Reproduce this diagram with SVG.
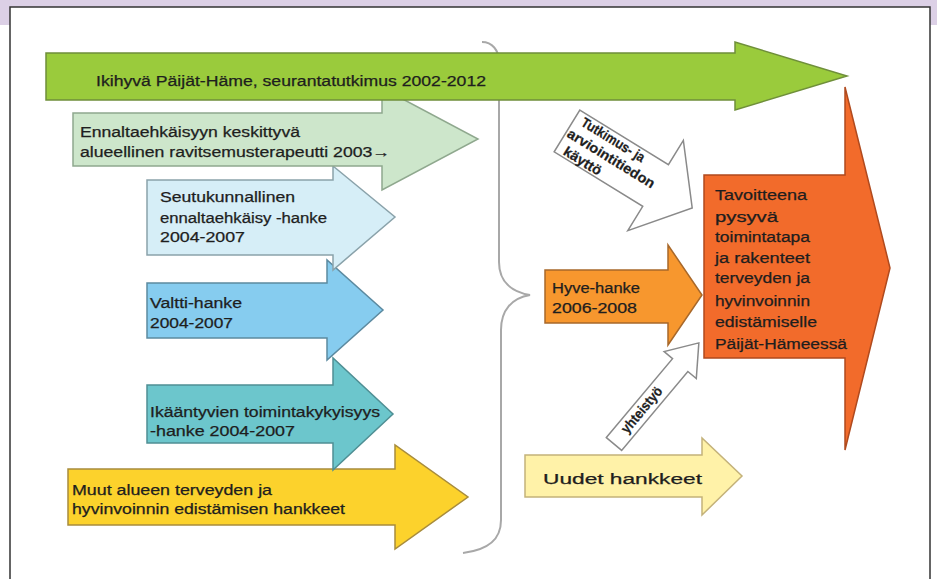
<svg xmlns="http://www.w3.org/2000/svg" width="937" height="579" viewBox="0 0 937 579">
<style>
.t{font-family:"Liberation Sans",Arial,sans-serif;fill:#1e1e1e;font-size:14px;stroke:#1e1e1e;stroke-width:0.25}
.a{stroke-width:1.5;stroke-linejoin:miter}
</style>
<rect x="0" y="0" width="937" height="579" fill="#ffffff"/>
<rect x="0" y="0" width="937" height="25" fill="#dcd0e6"/>
<rect x="10" y="7" width="920" height="580" fill="#ffffff" stroke="#333333" stroke-width="1.5"/>

<g id="connectors">
<path d="M482 42 C492 42 499 50 499 62 L499 262 C499 282 512 292 530 295 C512 298 501 310 501 330 L501 520 C501 540 488 550 463 553" fill="none" stroke="#a8a8a8" stroke-width="2"/>
</g>

<g id="muut">
<polygon class="a" points="68,469 395,469 395,445 468,497 395,549 395,525 68,525" fill="#fcd22c" stroke="#a88c3c"/>
<text class="t" x="72" y="495" textLength="200" lengthAdjust="spacingAndGlyphs">Muut alueen terveyden ja</text>
<text class="t" x="72" y="514" textLength="273" lengthAdjust="spacingAndGlyphs">hyvinvoinnin edistämisen hankkeet</text>
</g>

<g id="ikaantyvien">
<polygon class="a" points="147,385 333,385 333,358 393,414 333,470 333,443 147,443" fill="#6cc6cc" stroke="#4f8f94"/>
<text class="t" x="150" y="417" textLength="230" lengthAdjust="spacingAndGlyphs">Ikääntyvien toimintakykyisyys</text>
<text class="t" x="150" y="436" textLength="145" lengthAdjust="spacingAndGlyphs">-hanke 2004-2007</text>
</g>

<g id="valtti">
<polygon class="a" points="147,283 327,283 327,260 383,310 327,360 327,338 147,338" fill="#86ccef" stroke="#5c8aa0"/>
<text class="t" x="150" y="308" textLength="92" lengthAdjust="spacingAndGlyphs">Valtti-hanke</text>
<text class="t" x="150" y="328" textLength="83" lengthAdjust="spacingAndGlyphs">2004-2007</text>
</g>

<g id="seutukunnallinen">
<polygon class="a" points="147,180 333,180 333,166 395,217 333,270 333,255 147,255" fill="#d6eef7" stroke="#8aa2aa"/>
<text class="t" x="160" y="202" textLength="135" lengthAdjust="spacingAndGlyphs">Seutukunnallinen</text>
<text class="t" x="160" y="223" textLength="167" lengthAdjust="spacingAndGlyphs">ennaltaehkäisy -hanke</text>
<text class="t" x="160" y="242" textLength="85" lengthAdjust="spacingAndGlyphs">2004-2007</text>
</g>

<g id="ennaltaehkaisy">
<polygon class="a" points="73,113 382,113 382,88 478,139 382,190 382,166 73,166" fill="#cde6cb" stroke="#8fa88e"/>
<text class="t" x="80" y="137" textLength="220" lengthAdjust="spacingAndGlyphs">Ennaltaehkäisyyn keskittyvä</text>
<text class="t" x="80" y="157" textLength="310" lengthAdjust="spacingAndGlyphs">alueellinen ravitsemusterapeutti 2003→</text>
</g>

<g id="ikihyva">
<polygon class="a" points="46,53 735,53 735,42 847,76 735,110 735,100 46,100" fill="#9acb3c" stroke="#6f8f3a"/>
<text class="t" x="96" y="86" font-size="15" textLength="390" lengthAdjust="spacingAndGlyphs">Ikihyvä Päijät-Häme, seurantatutkimus 2002-2012</text>
</g>

<g id="tutkimus" transform="translate(567,131) rotate(31.6)">
<polygon class="a" points="0,-24.5 104,-24.5 104,-53 147,0 104,53 104,24.5 0,24.5" fill="#ffffff" stroke="#8a8a8a"/>
<text class="t" x="8" y="-12" font-size="11" font-weight="bold" textLength="72" lengthAdjust="spacingAndGlyphs">Tutkimus- ja</text>
<text class="t" x="2" y="5" font-size="11" font-weight="bold" textLength="100" lengthAdjust="spacingAndGlyphs">arviointitiedon</text>
<text class="t" x="8" y="22" font-size="11" font-weight="bold" textLength="42" lengthAdjust="spacingAndGlyphs">käyttö</text>
</g>

<g id="hyve">
<polygon class="a" points="545,270 668,270 668,245 702,295 668,345 668,323 545,323" fill="#f7972e" stroke="#a8682a"/>
<text class="t" x="552" y="293" textLength="88" lengthAdjust="spacingAndGlyphs">Hyve-hanke</text>
<text class="t" x="552" y="313" textLength="85" lengthAdjust="spacingAndGlyphs">2006-2008</text>
</g>

<g id="yhteistyo" transform="translate(614,444) rotate(-50)">
<polygon class="a" points="0,-10 103,-10 103,-21 132,0 103,21 103,10 0,10" fill="#ffffff" stroke="#8a8a8a"/>
<text class="t" x="16" y="4" font-size="10" font-weight="bold" textLength="56" lengthAdjust="spacingAndGlyphs">yhteistyö</text>
</g>

<g id="tavoite">
<polygon class="a" points="704,175 845,175 845,87 890,268 845,450 845,358 704,358" fill="#f26b2b" stroke="#b04a1e"/>
<text class="t" x="715" y="200" textLength="92" lengthAdjust="spacingAndGlyphs">Tavoitteena</text>
<text class="t" x="715" y="222" textLength="63" lengthAdjust="spacingAndGlyphs">pysyvä</text>
<text class="t" x="715" y="242" textLength="95" lengthAdjust="spacingAndGlyphs">toimintatapa</text>
<text class="t" x="715" y="263" textLength="95" lengthAdjust="spacingAndGlyphs">ja rakenteet</text>
<text class="t" x="715" y="283" textLength="95" lengthAdjust="spacingAndGlyphs">terveyden ja</text>
<text class="t" x="715" y="306" textLength="95" lengthAdjust="spacingAndGlyphs">hyvinvoinnin</text>
<text class="t" x="715" y="327" textLength="102" lengthAdjust="spacingAndGlyphs">edistämiselle</text>
<text class="t" x="715" y="349" textLength="132" lengthAdjust="spacingAndGlyphs">Päijät-Hämeessä</text>
</g>

<g id="uudet">
<polygon class="a" points="525,455 702,455 702,438 742,476 702,515 702,497 525,497" fill="#fff2a8" stroke="#c4b27a"/>
<text class="t" x="543" y="484" font-size="20" textLength="159" lengthAdjust="spacingAndGlyphs">Uudet hankkeet</text>
</g>
</svg>
